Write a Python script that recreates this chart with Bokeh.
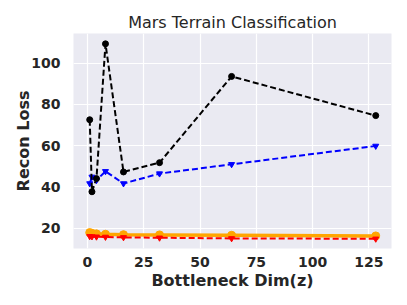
from bokeh.plotting import figure
from bokeh.embed import file_html
from bokeh.resources import INLINE
from bokeh.models import Range1d, FixedTicker

dims = [1, 2, 4, 8, 16, 32, 64, 128]
black_loss = [72.5, 37.6, 44.0, 109.3, 47.2, 51.7, 93.5, 74.5]
blue_loss = [41.6, 44.8, 43.2, 47.5, 41.6, 46.4, 50.9, 59.8]
orange_loss = [17.8, 17.5, 17.2, 17.0, 16.8, 16.7, 16.5, 16.2]
red_loss = [16.0, 15.9, 15.8, 15.7, 15.5, 15.3, 15.0, 14.8]
xticks = [0, 25, 50, 75, 100, 125]
yticks = [20, 40, 60, 80, 100]

p = figure(width=396, height=296, output_backend="svg", toolbar_location=None,
           x_range=Range1d(-6.2, 135), y_range=Range1d(10.1, 114.3),
           min_border_left=73, min_border_right=5, min_border_top=33, min_border_bottom=48,
           title="Mars Terrain Classification")
p.background_fill_color = "#EAEAF2"
p.border_fill_color = "white"
p.outline_line_color = None
p.title.align = "center"
p.title.text_font = "DejaVu Sans"
p.title.text_font_size = "16px"
p.title.text_font_style = "normal"
p.title.text_color = "#262626"
p.title.standoff = 3

p.grid.grid_line_color = "white"
p.grid.grid_line_width = 1.2
p.xaxis.ticker = FixedTicker(ticks=xticks)
p.yaxis.ticker = FixedTicker(ticks=yticks)
for ax in (p.xaxis, p.yaxis):
    ax.axis_line_color = None
    ax.major_tick_line_color = None
    ax.minor_tick_line_color = None
    ax.major_label_text_font = "DejaVu Sans"
    ax.major_label_text_font_size = "14px"
    ax.major_label_text_font_style = "bold"
    ax.major_label_text_color = "#262626"
    ax.axis_label_text_font = "DejaVu Sans"
    ax.axis_label_text_font_size = "16px"
    ax.axis_label_text_font_style = "bold"
    ax.axis_label_text_color = "#262626"
p.xaxis.axis_label = "Bottleneck Dim(z)"
p.yaxis.axis_label = "Recon Loss"
p.xaxis.major_label_standoff = 2
p.yaxis.major_label_standoff = 7
p.xaxis.axis_label_standoff = 1
p.yaxis.axis_label_standoff = -5

p.line(dims, orange_loss, color="orange", line_width=3.5)
p.scatter(dims, orange_loss, color="orange", size=8, marker="circle")
p.line(dims, red_loss, color="red", line_width=2, line_dash="6 3")
p.scatter(dims, red_loss, color="red", size=6, marker="inverted_triangle")
p.line(dims, blue_loss, color="blue", line_width=2, line_dash="6 3")
p.scatter(dims, blue_loss, color="blue", size=6, marker="inverted_triangle")
p.line(dims, black_loss, color="black", line_width=2, line_dash="6 3")
p.scatter(dims, black_loss, color="black", size=6, marker="circle")

open("out.html", "w").write(file_html(p, INLINE))
